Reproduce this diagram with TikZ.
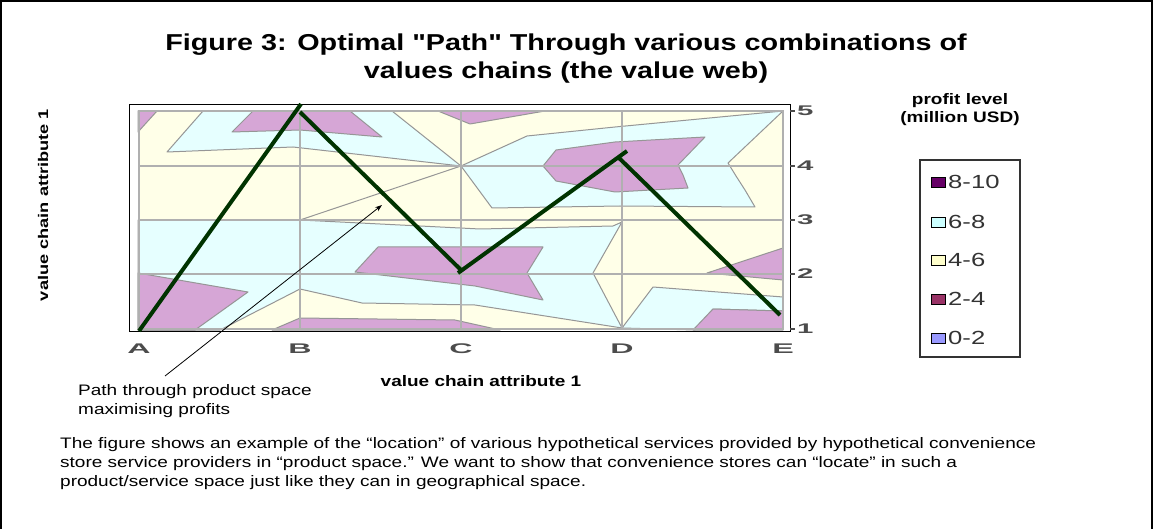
\documentclass[tikz,border=0pt]{standalone}
\usepackage{fontspec}
\setmainfont{Liberation Sans}
\usetikzlibrary{arrows.meta}

\definecolor{mauve}{HTML}{D6A6D6}
\definecolor{paleCyan}{HTML}{E6FFFF}
\definecolor{paleYellow}{HTML}{FFFFE8}
\definecolor{gridGray}{HTML}{B0B0B0}
\definecolor{routeGreen}{HTML}{003300}
\definecolor{lvlA}{HTML}{660066}
\definecolor{lvlB}{HTML}{CCFFFF}
\definecolor{lvlC}{HTML}{FFFFCC}
\definecolor{lvlD}{HTML}{993366}
\definecolor{lvlE}{HTML}{9999FF}

\newcommand{\wide}[2][1.25]{\scalebox{#1}[1]{#2}}

\begin{document}
\begin{tikzpicture}[x=1pt,y=-1pt]
        \tikzstyle{zone}=[draw=gridGray!85!black, line width=1pt, line join=round]
        \tikzstyle{grid}=[draw=gridGray, line width=2.2pt]
        \tikzstyle{route}=[draw=routeGreen, line width=4pt]
        \tikzstyle{axislbl}=[font=\fontsize{14}{14}\selectfont\bfseries, text=black!70, inner sep=0pt]
        \tikzstyle{key}=[draw=black, line width=0.8pt, minimum width=14pt, minimum height=10pt, inner sep=0pt]
        \tikzstyle{keytext}=[font=\fontsize{19}{19}\selectfont, text=black!80, inner sep=0pt, anchor=west]
        \tikzstyle{caption}=[font=\fontsize{15.2}{19}\selectfont, align=left, inner sep=0pt, anchor=north west]

        \useasboundingbox (0,0) rectangle (1153,529);
        \draw[line width=2pt] (1,529) -- (1,1) -- (1152,1) -- (1152,529);

        % contour zones
        \fill[paleYellow] (138,111) rectangle (784,330);
        \filldraw[zone, fill=paleCyan] (203,111) -- (392,111) -- (461,166) -- (293,147) -- (167,152) -- cycle;
        \filldraw[zone, fill=paleCyan] (461,166) -- (527,136) -- (615,127) -- (783,111) -- (728,163) -- (736,176) -- (745,190) -- (755,207) -- (620,206) -- (492,208) -- cycle;
        \filldraw[zone, fill=paleCyan] (138,220) -- (300,220) -- (480,229) -- (613,226) -- (622,222) -- (593,273) -- (622,328) -- (475,305) -- (362,303) -- (300,289) -- (220,330) -- (138,330) -- cycle;
        \filldraw[zone, fill=paleCyan] (622,328) -- (653,287) -- (783,297) -- (783,311) -- (713,309) -- (695,330) -- cycle;
        \draw[zone] (300,220) -- (461,166);

        \filldraw[zone, fill=mauve] (138,111) -- (157,111) -- (138,132) -- cycle;
        \filldraw[zone, fill=mauve] (232,132) -- (253,111) -- (350,111) -- (382,137) -- (300,130) -- cycle;
        \filldraw[zone, fill=mauve] (438,111) -- (545,111) -- (470,124) -- cycle;
        \filldraw[zone, fill=mauve] (543,166) -- (556,150) -- (615,142) -- (705,137) -- (678,165) -- (683,175) -- (688,188) -- (615,192) -- (556,181) -- cycle;
        \filldraw[zone, fill=mauve] (355,272) -- (378,247) -- (543,247) -- (535,260) -- (527,273) -- (543,300) -- (475,286) -- cycle;
        \filldraw[zone, fill=mauve] (138,273) -- (248,292) -- (195,330) -- (138,330) -- cycle;
        \filldraw[zone, fill=mauve] (272,330) -- (300,318) -- (455,320) -- (500,330) -- cycle;
        \filldraw[zone, fill=mauve] (707,273) -- (783,248) -- (783,280) -- cycle;
        \filldraw[zone, fill=mauve] (713,309) -- (783,311) -- (783,330) -- (693,330) -- cycle;

        % grid
        \foreach \x in {139,300,461,622,783}
            \draw[grid] (\x,111) -- (\x,330);
        \foreach \y in {111,166,220,274,329}
            \draw[grid] (138,\y) -- (784,\y);
        \draw[line width=1pt] (129,105) rectangle (790,331);

        % axis labels
        \foreach \v/\y in {5/111,4/166,3/220,2/274,1/329} {
            \draw[line width=1.5pt, black!70] (790,\y) -- (795,\y);
            \node[axislbl, anchor=west] (tick\v) at (797,\y) {\wide[2.1]{\v}};
        }
        \foreach \l/\x in {A/139,B/300,C/461,D/622,E/783}
            \node[axislbl] (col\l) at (\x,349) {\wide[2.3]{\l}};

        % optimal path
        \coordinate (pA) at (139,331);
        \coordinate (pB) at (301,104);
        \coordinate (pB2) at (300,112);
        \coordinate (pC) at (461,270);
        \coordinate (pC2) at (458,273);
        \coordinate (pD) at (627,151);
        \coordinate (pD2) at (618,157);
        \coordinate (pE) at (780,315);
        \draw[route] (pA) -- (pB);
        \draw[route] (pB2) -- (pC);
        \draw[route] (pC2) -- (pD);
        \draw[route] (pD2) -- (pE);

        % texts
        \node[font=\fontsize{23}{28}\selectfont\bfseries, align=center] (title) at (566,59)
            {\wide{Figure 3: Optimal \textquotedbl Path\textquotedbl{} Through various combinations of}\\\wide{values chains (the value web)}};
        \node[font=\fontsize{14}{14}\selectfont\bfseries, rotate=90] (ytitle) at (43,205) {\wide[1.3]{value chain attribute 1}};
        \node[font=\fontsize{15.2}{18}\selectfont\bfseries] (xtitle) at (481,381) {\wide{value chain attribute 1}};
        \node[font=\fontsize{15.2}{18}\selectfont\bfseries, align=center] (keytitle) at (960,110)
            {\wide{profit level}\\\wide{(million USD)}};
        \node[caption] (note) at (78,384) {\wide{Path through product space}\\\wide{maximising profits}};
        \node[caption] (body) at (60,437)
            {\wide{The figure shows an example of the “location” of various hypothetical services provided by hypothetical convenience}\\
             \wide{store service providers in “product space.” We want to show that convenience stores can “locate” in such a}\\
             \wide{product/service space just like they can in geographical space.}};

        \coordinate (tail) at (165,376);
        \coordinate (tip) at (382,205);
        \draw[-{Stealth[length=7pt,width=5pt]}, line width=0.8pt] (tail) -- (tip);

        % legend
        \draw[line width=1.2pt, black!80] (920,160) rectangle (1020,357);
        \foreach \t/\c/\y in {8-10/lvlA/182,6-8/lvlB/222,4-6/lvlC/260,2-4/lvlD/299,0-2/lvlE/338} {
            \node[key, fill=\c] (key\c) at (938,\y) {};
            \node[keytext] (lbl\c) at (948,\y) {\wide[1.35]{\t}};
        }
\end{tikzpicture}
\end{document}
